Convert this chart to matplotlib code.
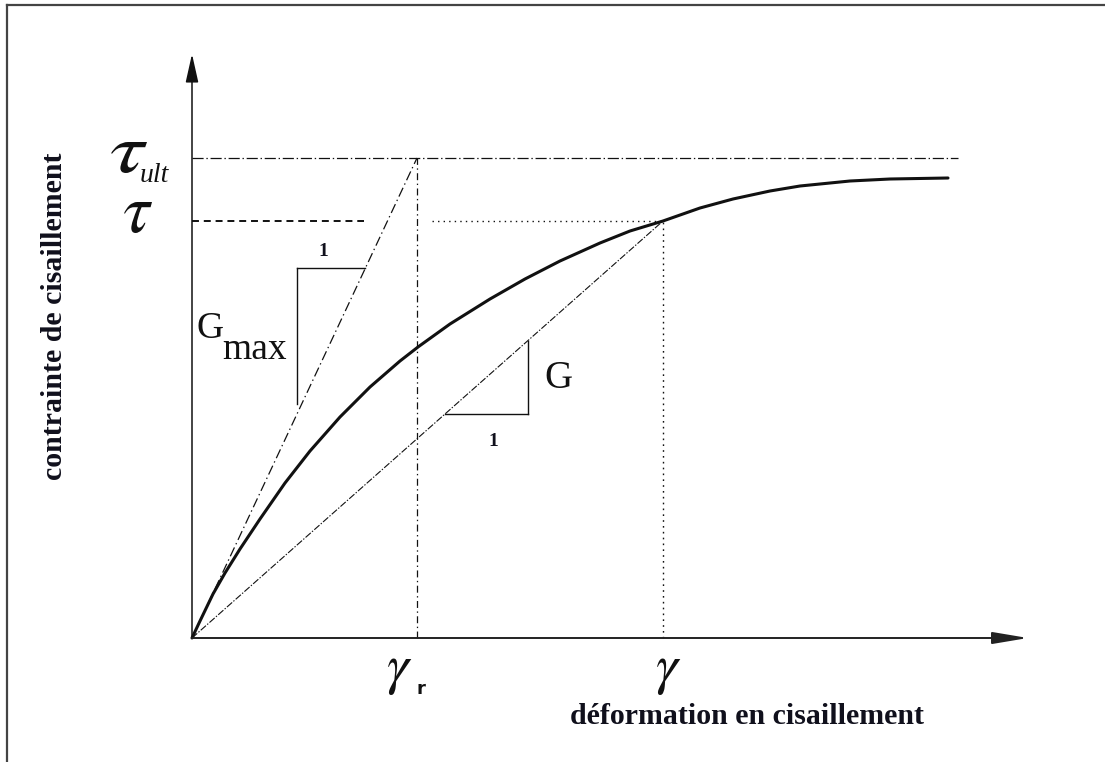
import matplotlib
matplotlib.use("Agg")
import matplotlib.pyplot as plt
import matplotlib.transforms as mtransforms
from matplotlib.lines import Line2D
from matplotlib.textpath import TextPath
from matplotlib.patches import PathPatch
from matplotlib.font_manager import FontProperties

plt.rcParams["lines.scale_dashes"] = False
plt.rcParams["mathtext.fontset"] = "stix"

# Shear stress-strain curve (strain, stress) in arbitrary units
curve_gamma = [0.00, 0.08, 0.21, 0.33, 0.48, 0.68, 0.93, 1.18, 1.48, 1.78, 2.08, 2.26,
               2.58, 2.98, 3.33, 3.68, 4.08, 4.38, 4.71, 5.08, 5.41, 5.78, 6.08, 6.58,
               6.98, 7.56]
curve_tau = [0.00, 0.17, 0.44, 0.65, 0.89, 1.19, 1.55, 1.87, 2.21, 2.51, 2.77, 2.91,
             3.14, 3.39, 3.59, 3.77, 3.95, 4.07, 4.17, 4.30, 4.39, 4.47, 4.52, 4.57,
             4.59, 4.60]

gamma_r = 2.25      # reference strain
tau_ult = 4.80      # ultimate shear stress
gamma_pt = 4.71     # current strain
tau_pt = 4.17       # current stress
tau_ult_end = 7.66  # extent of the asymptote line

x_axis_end = 8.36
y_axis_end = 5.84

# slope triangles: (corner gamma, top tau) for Gmax, (left gamma, right gamma) for G
gmax_tri_gamma = 1.05
gmax_tri_tau = 3.70
g_tri_left = 2.53
g_tri_right = 3.36

ink = "#111111"
text_ink = "#10101c"

fig = plt.figure(figsize=(11.05, 7.62), dpi=100)
ax = fig.add_axes([0, 0, 1, 1])
ax.set_xlim(-1.92, 9.13)
ax.set_ylim(-1.24, 6.38)
ax.axis("off")


def glyph(s, left, bottom, width, height):
    """Draw a math glyph scaled into the given box (data units)."""
    tp = TextPath((0, 0), s, size=1, prop=FontProperties(math_fontfamily="stix"))
    ext = tp.get_extents()
    tr = (mtransforms.Affine2D()
          .translate(-ext.x0, -ext.y0)
          .scale(width / ext.width, height / ext.height)
          .translate(left, bottom))
    ax.add_patch(PathPatch(tr.transform_path(tp), facecolor=ink, edgecolor="none"))


# page frame (top and left edges)
fig.add_artist(Line2D([7 / 1105, 1], [1 - 5 / 762, 1 - 5 / 762], color="#444444", lw=1.6))
fig.add_artist(Line2D([7 / 1105, 7 / 1105], [0, 1 - 5 / 762], color="#444444", lw=1.6))

# axes with arrow heads
ax.annotate("", xy=(0, y_axis_end), xytext=(0, 0),
            arrowprops=dict(arrowstyle="-|>,head_length=1.25,head_width=0.28",
                            mutation_scale=14, lw=1.1, color=ink, shrinkA=0, shrinkB=0))
ax.annotate("", xy=(x_axis_end, 0), xytext=(0, 0),
            arrowprops=dict(arrowstyle="-|>,head_length=1.55,head_width=0.26",
                            mutation_scale=14, lw=1.4, color="#222222", shrinkA=0, shrinkB=0))

# main curve
ax.plot(curve_gamma, curve_tau, color=ink, lw=2.2, solid_capstyle="round",
        solid_joinstyle="round")

# initial tangent modulus line (Gmax)
gmax = tau_ult / gamma_r
ax.plot([0, gamma_r], [0, tau_ult], color=ink, lw=0.9, dashes=(7, 2.5, 1, 2.5))

# secant modulus line (G)
g_sec = tau_pt / gamma_pt
ax.plot([0, gamma_pt], [0, tau_pt], color=ink, lw=0.8, dashes=(5, 1.2, 1, 1.2))

# asymptote at tau_ult
ax.plot([0, tau_ult_end], [tau_ult, tau_ult], color=ink, lw=0.9, dashes=(8, 2, 1, 2))
# vertical at gamma_r
ax.plot([gamma_r, gamma_r], [0, tau_ult], color=ink, lw=0.9, dashes=(5, 2.5, 1, 2.5))
# horizontal at tau: dashed then dotted
ax.plot([0, 1.72], [tau_pt, tau_pt], color=ink, lw=1.4, dashes=(5, 3.5))
ax.plot([2.40, gamma_pt], [tau_pt, tau_pt], color=ink, lw=1.0, dashes=(1, 3))
# vertical at gamma: dotted
ax.plot([gamma_pt, gamma_pt], [0, tau_pt], color=ink, lw=1.0, dashes=(1.2, 3))

# Gmax slope triangle
ax.plot([gmax_tri_gamma, gmax_tri_tau / gmax], [gmax_tri_tau, gmax_tri_tau], color=ink, lw=1.0)
ax.plot([gmax_tri_gamma, gmax_tri_gamma], [gmax_tri_tau, gmax_tri_gamma * gmax + 0.1],
        color=ink, lw=1.0)
# G slope triangle
ax.plot([g_tri_left, g_tri_right], [g_tri_left * g_sec, g_tri_left * g_sec], color=ink, lw=1.0)
ax.plot([g_tri_right, g_tri_right], [g_tri_left * g_sec, g_tri_right * g_sec], color=ink, lw=1.0)

serif = "Liberation Serif"

# triangle labels
ax.text(1.31, 3.78, "1", fontsize=14, fontweight="bold", family=serif,
        ha="center", va="bottom", color=text_ink)
ax.text(0.05, 3.00, "G", fontsize=27, family=serif, ha="left", va="baseline", color=ink)
ax.text(0.30, 2.79, "max", fontsize=27, family=serif, ha="left", va="baseline", color=ink)
ax.text(3.52, 2.50, "G", fontsize=28, family=serif, ha="left", va="baseline", color=ink)
ax.text(3.01, 2.05, "1", fontsize=14, fontweight="bold", family=serif,
        ha="center", va="top", color=text_ink)

# stress tick labels
glyph(r"$\tau$", -0.81, 4.65, 0.36, 0.31)
ax.text(-0.52, tau_ult - 0.05, "ult", fontsize=20, style="italic", family=serif,
        ha="left", va="top", color=ink)
glyph(r"$\tau$", -0.68, 4.05, 0.28, 0.31)

# strain tick labels
ax.text(gamma_r - 0.05, -0.32, r"$\gamma$", fontsize=40, ha="right", va="center", color=ink)
ax.text(gamma_r - 0.01, -0.42, "r", fontsize=13, fontweight="bold", family="DejaVu Sans",
        ha="left", va="top", color=ink)
ax.text(gamma_pt + 0.05, -0.32, r"$\gamma$", fontsize=40, ha="center", va="center", color=ink)

# axis titles
ax.text(3.78, -0.78, "déformation en cisaillement", fontsize=21.5, fontweight="bold",
        family=serif, ha="left", va="center", color=text_ink)
ax.text(-1.37, 3.22, "contrainte de cisaillement", fontsize=21.5, fontweight="bold",
        family=serif, ha="center", va="center", rotation=90, color=text_ink)

fig.savefig("out.png", dpi=100, facecolor="white")
